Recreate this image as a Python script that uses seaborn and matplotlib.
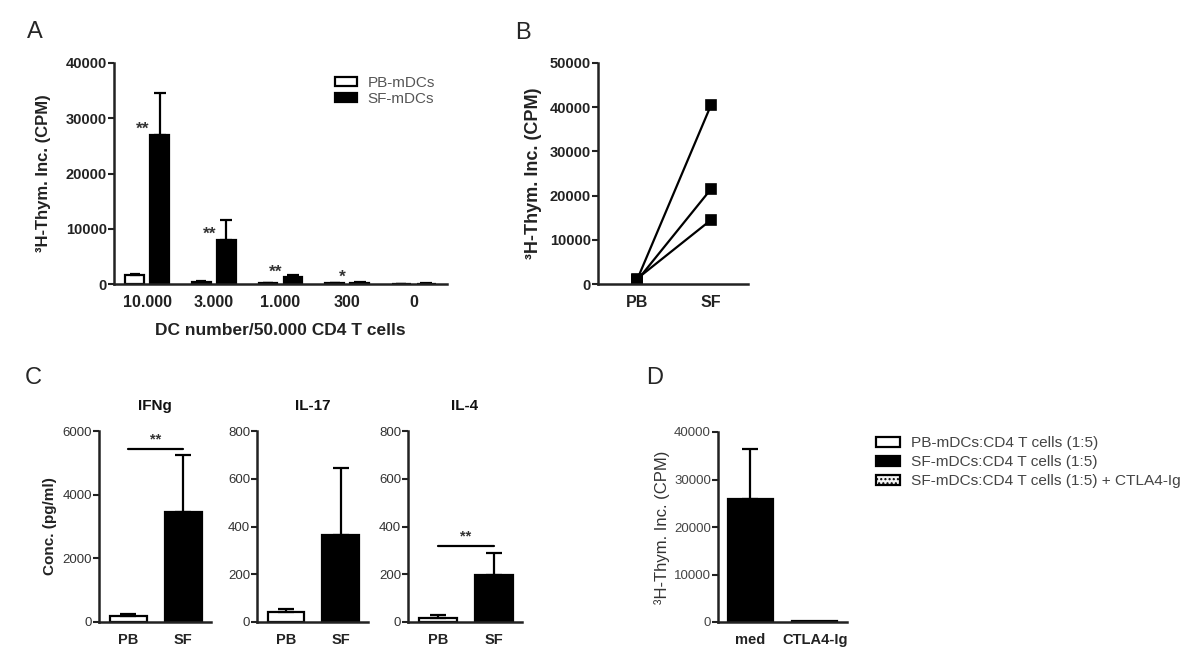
import numpy as np
import pandas as pd
import seaborn as sns
import matplotlib.pyplot as plt
from matplotlib.patches import Patch

sns.set_style('ticks')
plt.rcParams['font.family'] = ['Liberation Sans', 'DejaVu Sans']

# A: proliferation vs DC number
dc_numbers = ['10.000', '3.000', '1.000', '300', '0']
pb_cpm = [1600, 400, 150, 100, 60]
pb_err = [300, 100, 60, 40, 20]
sf_cpm = [27000, 8000, 1300, 250, 80]
sf_err = [7500, 3500, 350, 100, 30]
sig_A = ['**', '**', '**', '*', '']
sig_A_y = [28000, 9000, 2100, 1200, 0]

# B: paired donors
tissues = ['PB', 'SF']
donor_pb = [1000, 800, 1200]
donor_sf = [40500, 21500, 14500]

# C: cytokines
cytokines = ['IFNg', 'IL-17', 'IL-4']
cyt_pb = [180, 40, 18]
cyt_pb_err = [70, 15, 10]
cyt_sf = [3450, 365, 195]
cyt_sf_err = [1800, 280, 95]
cyt_ymax = [6000, 800, 800]
cyt_ystep = [2000, 200, 200]
sig_C = ['**', '', '**']
sig_C_y = [5450, 0, 320]

# D: CTLA4-Ig blocking
treatments = ['med', 'CTLA4-Ig']
treat_cpm = [25800, 300]
treat_err = [10700, 0]

legend_D = ['PB-mDCs:CD4 T cells (1:5)', 'SF-mDCs:CD4 T cells (1:5)',
            'SF-mDCs:CD4 T cells (1:5) + CTLA4-Ig']

W, H = 1200, 664
fig = plt.figure(figsize=(12, 6.64), dpi=100)


def add_ax(x0, y0, x1, y1):
    return fig.add_axes([x0 / W, 1 - y1 / H, (x1 - x0) / W, (y1 - y0) / H])


def style_ax(ax, size, xsize, bold, xbold=True, color='#222222'):
    sns.despine(ax=ax)
    for s in ['left', 'bottom']:
        ax.spines[s].set_linewidth(1.8)
        ax.spines[s].set_color('#222222')
    ax.tick_params(axis='y', length=4, width=1.5, labelsize=size, pad=1,
                   colors='#222222', labelcolor=color)
    ax.tick_params(axis='x', length=0, labelsize=xsize, pad=8,
                   colors='#222222')
    for t in ax.get_yticklabels():
        t.set_fontweight('bold' if bold else 'normal')
    for t in ax.get_xticklabels():
        t.set_fontweight('bold' if xbold else 'normal')
    ax.set_xlabel('')


def add_err(ax, bars, errs, capsize):
    for bar, e in zip(bars, errs):
        if e <= 0:
            continue
        x = bar.get_x() + bar.get_width() / 2
        ax.errorbar(x, bar.get_height(), yerr=[[0], [e]], color='black',
                    capsize=capsize, elinewidth=1.6, capthick=1.6, zorder=1)


# ---- A
dfA = pd.DataFrame({'dc': dc_numbers * 2,
                    'source': ['PB-mDCs'] * 5 + ['SF-mDCs'] * 5,
                    'cpm': pb_cpm + sf_cpm})
ax = add_ax(114, 63, 447, 284)
sns.barplot(data=dfA, x='dc', y='cpm', hue='source', order=dc_numbers,
            palette={'PB-mDCs': 'white', 'SF-mDCs': 'black'},
            edgecolor='black', linewidth=1.6, width=0.75, gap=0.25,
            errorbar=None, ax=ax)
add_err(ax, ax.containers[0], pb_err, 3.5)
add_err(ax, ax.containers[1], sf_err, 4.5)
for i, (s, y) in enumerate(zip(sig_A, sig_A_y)):
    if s:
        ax.text(i - 0.07, y, s, ha='center', va='center', fontsize=12.5,
                fontweight='bold', color='#333333')
ax.set_xlim(-0.5, 4.5)
ax.set_ylim(0, 40000)
ax.set_yticks(np.arange(0, 40001, 10000))
style_ax(ax, 10.5, 11.5, True)
ax.set_ylabel('³H-Thym. Inc. (CPM)', fontsize=12, fontweight='bold',
              color='#222222')
ax.yaxis.set_label_coords(-0.19, 0.5)
ax.set_xlabel('DC number/50.000 CD4 T cells', fontsize=12.5, fontweight='bold',
              color='#222222', labelpad=9)
ax.legend(frameon=False, loc='upper left', bbox_to_anchor=(0.655, 0.955),
          fontsize=11, handlelength=1.4, handleheight=0.55, labelspacing=0.1,
          handletextpad=0.7, borderpad=0.2, borderaxespad=0,
          labelcolor='#555555')

# ---- B
dfB = pd.DataFrame({'tissue': ['PB'] * 3 + ['SF'] * 3,
                    'donor': [1, 2, 3] * 2,
                    'cpm': donor_pb + donor_sf})
ax = add_ax(598, 63, 748, 284)
sns.pointplot(data=dfB, x='tissue', y='cpm', hue='donor', order=tissues,
              palette=['black'] * 3, markers='s', errorbar=None,
              markersize=6.5, linewidth=1.6, legend=False, ax=ax)
ax.set_xlim(-0.53, 1.5)
ax.set_ylim(0, 50000)
ax.set_yticks(np.arange(0, 50001, 10000))
style_ax(ax, 10.5, 11.5, True)
ax.set_ylabel('³H-Thym. Inc. (CPM)', fontsize=13, fontweight='bold',
              color='#222222')
ax.yaxis.set_label_coords(-0.37, 0.5)

# ---- C
for i, (name, x0, x1) in enumerate(zip(cytokines, [99, 257, 408], [211, 368, 522])):
    ax = add_ax(x0, 431, x1, 622)
    d = pd.DataFrame({'source': tissues, 'conc': [cyt_pb[i], cyt_sf[i]]})
    sns.barplot(data=d, x='source', y='conc', hue='source', order=tissues,
                palette={'PB': 'white', 'SF': 'black'}, edgecolor='black',
                linewidth=1.6, width=0.67, errorbar=None, legend=False, ax=ax)
    bars = [b for c in ax.containers for b in c]
    add_err(ax, bars, [cyt_pb_err[i], cyt_sf_err[i]], 6)
    if sig_C[i]:
        ax.plot([0, 1], [sig_C_y[i]] * 2, color='black', lw=1.6)
        ax.text(0.5, sig_C_y[i] + cyt_ymax[i] * 0.01, sig_C[i], ha='center',
                va='bottom', fontsize=10.5, fontweight='bold', color='#333333')
    ax.set_xlim(-0.53, 1.5)
    ax.set_ylim(0, cyt_ymax[i])
    ax.set_yticks(np.arange(0, cyt_ymax[i] + 1, cyt_ystep[i]))
    style_ax(ax, 9.5, 10.5, False, color='#333333')
    ax.set_ylabel('')
    ax.set_title(name, fontsize=11, fontweight='bold', pad=15, color='#111111')
    if i == 0:
        ax.set_ylabel('Conc. (pg/ml)', fontsize=11, fontweight='bold',
                      color='#222222')
        ax.yaxis.set_label_coords(-0.375, 0.5)

# ---- D
dfD = pd.DataFrame({'treatment': treatments, 'cpm': treat_cpm})
ax = add_ax(718, 432, 847, 622)
sns.barplot(data=dfD, x='treatment', y='cpm', order=treatments, color='black',
            edgecolor='black', linewidth=1.6, width=0.69, errorbar=None, ax=ax)
add_err(ax, ax.containers[0], treat_err, 6)
ax.set_xlim(-0.5, 1.5)
ax.set_ylim(0, 40000)
ax.set_yticks(np.arange(0, 40001, 10000))
style_ax(ax, 9.5, 10.5, False, color='#444444')
ax.set_ylabel('³H-Thym. Inc. (CPM)', fontsize=12, color='#333333')
ax.yaxis.set_label_coords(-0.37, 0.5)

handles = [Patch(facecolor='white', edgecolor='black', linewidth=1.6),
           Patch(facecolor='black', edgecolor='black', linewidth=1.6),
           Patch(facecolor='#f4f4f4', edgecolor='black', linewidth=1.6,
                 hatch='....')]
fig.legend(handles, legend_D, loc='upper left', bbox_to_anchor=(873 / W, 1 - 433 / H),
           frameon=False, fontsize=11.1, handlelength=1.55, handleheight=0.65,
           labelspacing=0.33, handletextpad=0.7, borderpad=0.2,
           borderaxespad=0, labelcolor='#444444')

# panel letters
for lab, (x, y) in zip('ABCD', [(35, 32), (523, 33), (33, 378), (655, 378)]):
    fig.text(x / W, 1 - y / H, lab, fontsize=17, ha='center', va='center')

fig.savefig('out.png', dpi=100, facecolor='white')
